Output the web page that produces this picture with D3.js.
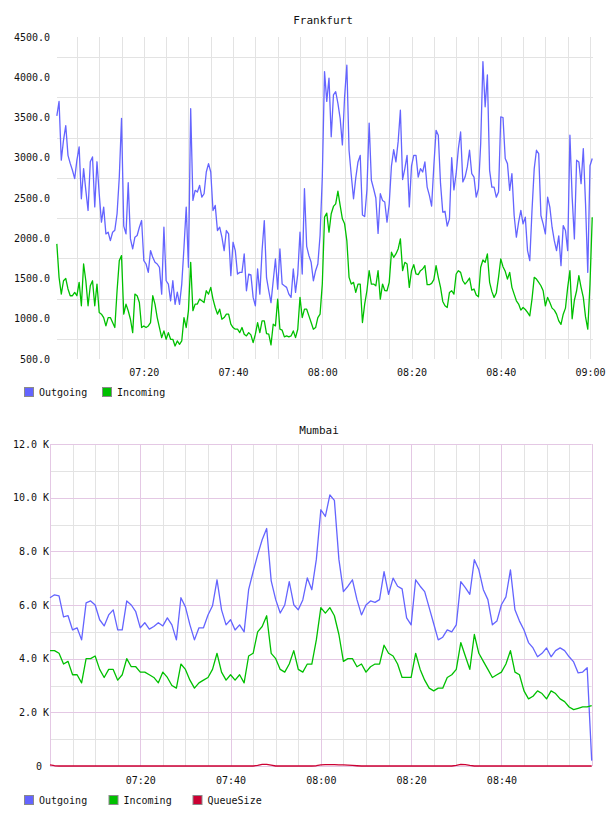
<!DOCTYPE html>
<html><head><meta charset="utf-8">
<script src="https://cdn.jsdelivr.net/npm/d3@7"></script>
<style>
body{margin:0;background:#fff;overflow:hidden}
svg{display:block}
text{font-family:"DejaVu Sans Mono",monospace;fill:#111}
</style>
</head><body>
<svg id="c" width="608" height="816"></svg>
<script>
// Frankfurt: one sample every 30 s starting 07:00:30
const frankfurtOutgoing = [
3520,3700,2970,3220,3400,3030,2930,2845,2740,2970,
3135,2490,2865,2595,2345,2950,3010,2390,2950,2553,
2200,2387,2054,2075,1970,2075,2100,2304,2760,3490,
2150,2054,2690,1992,1867,2013,2034,2137,2220,1722,
1680,1576,1847,1763,1701,1680,1639,1306,2137,1472,
1431,1223,1472,1180,1330,1180,1431,1888,2387,1640,
3610,2470,2595,2574,2657,2511,2553,2823,2927,2823,
2345,2408,2096,2137,2013,1847,2096,2054,1535,1950,
1847,1555,1576,1576,1805,1348,1555,1545,1265,1161,
1618,1306,1847,2220,1510,1348,1200,1472,1742,1368,
1867,1431,1410,1390,1306,1265,1618,1327,1555,2075,
1555,2615,1900,1784,1701,1472,1597,1680,2034,2760,
4070,3700,3990,3260,3780,3820,3675,3490,3160,3760,
4150,3090,2780,2490,2750,2948,3030,2290,2270,2600,
3430,2720,2615,2500,2060,2553,2470,2450,2200,2428,
2900,3100,2948,3200,3590,2730,2865,3030,2390,2900,
3030,3030,2760,2865,2823,2948,2636,2532,2400,2900,
3340,3280,2678,2325,2335,2150,2241,3000,2600,2802,
3114,3320,2700,2760,2886,3093,2802,2760,2511,2615,
3176,4195,3633,4028,2844,2636,2636,2511,2574,3509,
3500,2990,2927,2595,2802,2283,2013,2200,2345,2179,
2262,1847,1722,2345,2865,3093,3052,2283,2179,2054,
2511,2387,2137,1970,1847,2030,1660,2158,2096,1847,
3280,2511,1992,2969,2948,2678,3114,2428,1576,2900,
2990];
const frankfurtIncoming = [
1930,1514,1306,1472,1500,1370,1286,1286,1327,1286,
1452,1161,1680,1472,1161,1410,1472,1161,1431,1078,
1057,1015,911,1015,1015,953,891,1348,1722,1784,
1057,1182,1099,994,828,1306,1286,1202,891,911,
891,911,953,1286,1182,1015,891,766,849,745,
828,745,745,662,724,683,724,1015,891,1100,
1700,1100,1182,1182,1244,1223,1202,1348,1306,1390,
1244,1140,1057,1119,994,1015,1057,1057,932,891,
870,870,828,891,808,787,828,800,704,808,
953,828,974,974,816,808,675,932,911,1244,
870,858,775,787,775,787,849,766,870,1265,
1015,1120,1119,1036,953,870,891,1015,1057,1431,
2262,2312,2075,2304,2395,2428,2585,2408,2241,2179,
1971,1514,1431,1452,1327,1431,1431,953,1182,1348,
1597,1431,1431,1410,1597,1244,1431,1350,1348,1452,
1826,1763,1805,1867,1992,1597,1701,1680,1390,1597,
1672,1556,1548,1597,1618,1660,1423,1423,1440,1485,
1660,1514,1390,1215,1161,1140,1327,1348,1306,1556,
1597,1576,1472,1431,1464,1506,1356,1369,1294,1273,
1639,1730,1701,1805,1452,1340,1265,1319,1514,1742,
1647,1589,1493,1576,1390,1306,1223,1182,1107,1140,
1115,1078,1036,1244,1514,1493,1452,1410,1348,1161,
1265,1202,1132,1107,1057,974,930,1057,1132,1390,
1597,1000,1230,1348,1535,1390,1265,1023,870,1431,
2262];
// Mumbai: one sample per minute from 07:00 to 09:00
const mumbaiOutgoing = [
6270,6380,6340,5560,5600,5070,5150,4700,6080,6150,
6000,5450,5220,5630,5820,5070,5070,6150,6000,5750,
5150,5340,5100,5200,5340,5220,5520,5260,4700,6270,
5930,5260,4700,5150,5150,5630,5970,6940,5820,5260,
5450,5070,5260,5000,6570,7240,7870,8430,8850,6900,
6200,5700,6000,6870,6010,5820,6190,7010,6570,7700,
9550,9300,10100,9900,7700,6500,6700,6940,6200,5630,
6000,6150,6100,6200,7240,6400,7000,6700,6600,5520,
5260,6940,6700,6500,5900,5300,4700,4800,5070,5000,
5260,6870,6650,6400,7690,7310,6570,6200,5260,5400,
6010,6300,7310,5820,5400,5070,4600,4400,4070,4200,
4400,4070,4300,4400,4300,4070,3880,3470,3500,3660,
200];
const mumbaiIncoming = [
4300,4300,4200,3800,3900,3400,3400,3100,4000,4000,
4100,3600,3300,3600,3600,3200,3400,4000,3700,3700,
3500,3500,3400,3300,3100,3500,3300,3000,2900,3800,
3600,3200,2900,3100,3200,3300,3600,4200,3500,3200,
3400,3200,3400,3100,4100,4200,5000,5200,5600,4200,
4000,3600,3500,3800,4300,3600,3500,3800,3800,4700,
5900,5700,5900,5600,4900,3900,4000,4000,3700,3800,
3500,3700,3800,3800,4500,4200,4100,3800,3300,3300,
3300,4200,3600,3200,2900,2800,2900,2900,3300,3400,
3600,4600,4100,3600,4900,4200,3900,3600,3300,3400,
3500,3800,4300,3500,3400,2800,2500,2600,2800,2700,
2500,2800,2700,2500,2400,2200,2100,2150,2200,2200,
2250];
const mumbaiQueueSize = [
40,10,0,0,0,0,0,0,0,0,
0,0,0,0,0,0,0,0,0,0,
0,0,0,0,0,0,0,0,0,0,
0,0,0,0,0,0,0,0,0,0,
0,0,0,0,0,0,20,60,60,30,
0,0,0,0,0,0,0,0,0,10,
40,50,50,50,40,40,30,20,10,0,
0,0,0,0,0,0,0,0,0,0,
0,0,0,0,0,0,0,0,0,0,
20,60,50,20,0,0,0,0,0,0,
0,0,0,0,0,0,0,0,0,0,
0,0,0,0,0,0,0,0,0,0,
0];
const frankfurtYTicks = [500,1000,1500,2000,2500,3000,3500,4000,4500];
const frankfurtYMinor = [750,1250,1750,2250,2750,3250,3750,4250];
const mumbaiYTicks = [0,2000,4000,6000,8000,10000,12000];
const mumbaiYMinor = [1000,3000,5000,7000,9000,11000];
const frankfurtXTickLabels = ["07:20","07:40","08:00","08:20","08:40","09:00"];
const mumbaiXTickLabels = ["07:20","07:40","08:00","08:20","08:40"];
const frankfurtSeries = ["Outgoing","Incoming"];
const mumbaiSeries = ["Outgoing","Incoming","QueueSize"];
const colors = {Outgoing:"#6464ff", Incoming:"#00c000", QueueSize:"#cc0033"};

const svg = d3.select("#c");
const day = (h,m,s=0)=>new Date(2013,0,1,h,m,s);
const parseHM = s => { const [h,m]=s.split(":").map(Number); return day(h,m); };
const fmt = d3.timeFormat("%H:%M");
const gridGray = "#e3e3e3", gridPink = "#e4c8e4";

function lineSeries(g, x, y, vals, start, stepSec, color){
  const pts = vals.map((v,i)=>[new Date(start.getTime()+i*stepSec*1000), v]);
  g.append("path").datum(pts)
    .attr("fill","none").attr("stroke",color).attr("stroke-width",1.3)
    .attr("stroke-linejoin","round")
    .attr("d", d3.line().x(d=>x(d[0])).y(d=>y(d[1])));
}
function legend(items, y0){
  const g = svg.append("g");
  const xs = items.length===3 ? [24,108.5,192.5] : [24,102];
  items.forEach((name,i)=>{
    const lx = xs[i];
    g.append("rect").attr("x",lx+0.5).attr("y",y0+0.5).attr("width",9).attr("height",9)
      .attr("fill",colors[name]).attr("stroke","#8a8a8a").attr("stroke-width",1);
    g.append("text").attr("x",lx+15).attr("y",y0+8.5).attr("font-size",10).text(name);
  });
}

// ---------------- Frankfurt ----------------
{
  const x = d3.scaleTime().domain([day(7,0),day(9,0)]).range([54.6,590]);
  const y = d3.scaleLinear().domain([500,4500]).range([359,37]);
  const L = 57, R = 593;
  const g = svg.append("g");
  const vt = d3.timeMinute.every(5).range(day(7,5), day(9,0,1));
  g.selectAll(".v").data(vt).join("line")
    .attr("x1",d=>Math.round(x(d))+0.5).attr("x2",d=>Math.round(x(d))+0.5)
    .attr("y1",y(4500)).attr("y2",y(500)).attr("stroke",gridGray);
  g.selectAll(".h").data(frankfurtYMinor).join("line")
    .attr("x1",L).attr("x2",R).attr("y1",d=>Math.round(y(d))+0.5).attr("y2",d=>Math.round(y(d))+0.5)
    .attr("stroke",gridGray);
  lineSeries(g,x,y,frankfurtIncoming,day(7,0,30),30,colors.Incoming);
  lineSeries(g,x,y,frankfurtOutgoing,day(7,0,30),30,colors.Outgoing);
  const ya = svg.append("g").attr("transform",`translate(${L},0)`)
    .call(d3.axisLeft(y).tickValues(frankfurtYTicks).tickSize(0).tickPadding(7).tickFormat(d3.format(".1f")));
  ya.select(".domain").remove();
  ya.selectAll("text").attr("font-size",10).attr("font-family","DejaVu Sans Mono, monospace").attr("fill","#111");
  const xa = svg.append("g").attr("transform",`translate(0,359)`)
    .call(d3.axisBottom(x).tickValues(frankfurtXTickLabels.map(parseHM)).tickSize(0).tickPadding(10).tickFormat(fmt));
  xa.select(".domain").remove();
  xa.selectAll("text").attr("font-size",10).attr("font-family","DejaVu Sans Mono, monospace").attr("fill","#111");
  svg.append("text").attr("x",323).attr("y",24).attr("text-anchor","middle").attr("font-size",11).text("Frankfurt");
  legend(frankfurtSeries, 387);
}

// ---------------- Mumbai ----------------
{
  const x = d3.scaleTime().domain([day(7,0),day(9,0)]).range([50,591.7]);
  const y = d3.scaleLinear().domain([0,12000]).range([766,444]);
  const g = svg.append("g");
  const all5 = d3.timeMinute.every(5).range(day(7,0), day(9,0,1));
  const minorV = all5.filter(d=>d.getMinutes()%20!==0);
  const majorV = all5.filter(d=>d.getMinutes()%20===0);
  g.selectAll(".vm").data(minorV).join("line")
    .attr("x1",d=>Math.round(x(d))+0.5).attr("x2",d=>Math.round(x(d))+0.5)
    .attr("y1",y(12000)).attr("y2",y(0)).attr("stroke",gridGray);
  g.selectAll(".hm").data(mumbaiYMinor).join("line")
    .attr("x1",x(day(7,0))).attr("x2",x(day(9,0))).attr("y1",d=>Math.round(y(d))+0.5).attr("y2",d=>Math.round(y(d))+0.5)
    .attr("stroke",gridGray);
  g.selectAll(".vM").data(majorV).join("line")
    .attr("x1",d=>Math.round(x(d))+0.5).attr("x2",d=>Math.round(x(d))+0.5)
    .attr("y1",y(12000)).attr("y2",y(0)).attr("stroke",gridPink);
  g.selectAll(".hM").data(mumbaiYTicks).join("line")
    .attr("x1",x(day(7,0))).attr("x2",x(day(9,0))).attr("y1",d=>Math.round(y(d))+0.5).attr("y2",d=>Math.round(y(d))+0.5)
    .attr("stroke",gridPink);
  lineSeries(g,x,y,mumbaiOutgoing,day(7,0),60,colors.Outgoing);
  lineSeries(g,x,y,mumbaiIncoming,day(7,0),60,colors.Incoming);
  lineSeries(g,x,y,mumbaiQueueSize,day(7,0),60,colors.QueueSize);
  const ya = svg.append("g").attr("transform",`translate(50,0)`)
    .call(d3.axisLeft(y).tickValues(mumbaiYTicks).tickSize(0).tickPadding(1)
      .tickFormat(d=> d===0 ? "0" : d3.format(".1f")(d/1000)+" K"));
  ya.select(".domain").remove();
  ya.selectAll("text").attr("font-size",10).attr("font-family","DejaVu Sans Mono, monospace").attr("fill","#111");
  ya.selectAll(".tick").filter(d=>d===0).select("text").attr("x",-8);
  const xa = svg.append("g").attr("transform",`translate(0,766)`)
    .call(d3.axisBottom(x).tickValues(mumbaiXTickLabels.map(parseHM)).tickSize(0).tickPadding(11).tickFormat(fmt));
  xa.select(".domain").remove();
  xa.selectAll("text").attr("font-size",10).attr("font-family","DejaVu Sans Mono, monospace").attr("fill","#111");
  svg.append("text").attr("x",319).attr("y",434).attr("text-anchor","middle").attr("font-size",11).text("Mumbai");
  legend(mumbaiSeries, 795);
}
</script>
</body></html>
